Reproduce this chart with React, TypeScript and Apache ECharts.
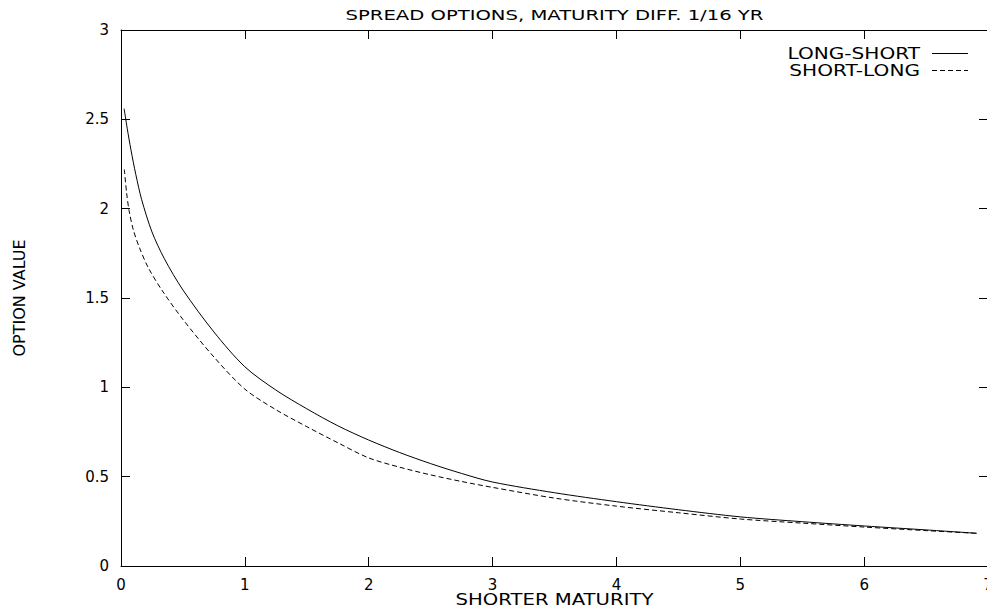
import React, { useEffect, useRef } from "react";
import * as echarts from "echarts";

const TITLE = "SPREAD OPTIONS, MATURITY DIFF. 1/16 YR";
const X_NAME = "SHORTER MATURITY";
const Y_NAME = "OPTION VALUE";
const SERIES_NAMES = ["LONG-SHORT", "SHORT-LONG"];

const longShortX = [0.025, 0.05, 0.08, 0.12, 0.167, 0.25, 0.35, 0.5, 0.75, 1.0, 1.25, 1.5, 1.75, 2.0, 2.25, 2.5, 2.75, 3.0, 3.5, 4.0, 4.5, 5.0, 5.5, 6.0, 6.5, 6.91];
const longShortY = [2.56, 2.45, 2.33, 2.19, 2.05, 1.87, 1.72, 1.545, 1.31, 1.115, 0.985, 0.88, 0.785, 0.705, 0.635, 0.573, 0.518, 0.47, 0.41, 0.36, 0.315, 0.275, 0.248, 0.224, 0.202, 0.183];

const shortLongX = [0.027, 0.045, 0.065, 0.1, 0.15, 0.22, 0.33, 0.5, 0.75, 1.0, 1.25, 1.5, 1.75, 2.0, 2.25, 2.5, 2.75, 3.0, 3.5, 4.0, 4.5, 5.0, 5.5, 6.0, 6.5, 6.91];
const shortLongY = [2.22, 2.09, 1.99, 1.88, 1.78, 1.67, 1.544, 1.38, 1.17, 0.99, 0.875, 0.78, 0.69, 0.605, 0.553, 0.51, 0.473, 0.44, 0.38, 0.335, 0.298, 0.263, 0.24, 0.218, 0.198, 0.183];

const X_MIN = 0;
const X_MAX = 7;
const X_STEP = 1;
const Y_MIN = 0;
const Y_MAX = 3;
const Y_STEP = 0.5;

const FONT = "DejaVu Sans";
const DASH = [5, 3];

export default function App() {
  const ref = useRef<HTMLDivElement>(null);
  useEffect(() => {
    if (!ref.current) return;
    const chart = echarts.init(ref.current, null, { renderer: "svg" });
    const pairs = (xs: number[], ys: number[]) => xs.map((x, i) => [x, ys[i]]);
    const axisCommon = {
      axisLine: { show: true, onZero: false, lineStyle: { color: "#000", width: 1 } },
      axisTick: { show: true, inside: true, length: 9, lineStyle: { color: "#000", width: 1 } },
      splitLine: { show: false },
    };
    const textStyle = (text: string, align: string) => ({
      text,
      align,
      verticalAlign: "middle",
      fontFamily: FONT,
      fontSize: 14,
      fill: "#000",
    });
    chart.setOption({
      animation: false,
      backgroundColor: "#ffffff",
      textStyle: { fontFamily: FONT },
      grid: { left: 121, top: 30, width: 867, height: 536, containLabel: false },
      graphic: [
        { type: "text", x: 554.5, y: 15, scaleX: 1.4, style: textStyle(TITLE, "center") },
        { type: "text", x: 554.5, y: 600, scaleX: 1.31, style: { ...textStyle(X_NAME, "center"), fontSize: 15 } },
        { type: "text", x: 920, y: 54, scaleX: 1.34, style: { ...textStyle(SERIES_NAMES[0], "right"), fontSize: 15 } },
        { type: "text", x: 920, y: 70.5, scaleX: 1.34, style: { ...textStyle(SERIES_NAMES[1], "right"), fontSize: 15 } },
        {
          type: "line",
          shape: { x1: 932, y1: 53.5, x2: 968, y2: 53.5 },
          style: { stroke: "#000", lineWidth: 1 },
        },
        {
          type: "line",
          shape: { x1: 932, y1: 70.5, x2: 968, y2: 70.5 },
          style: { stroke: "#000", lineWidth: 1, lineDash: DASH },
        },
      ],
      xAxis: [
        {
          type: "value",
          min: X_MIN,
          max: X_MAX,
          interval: X_STEP,
          position: "bottom",
          axisLabel: { show: true, margin: 11, color: "#000", fontFamily: FONT, fontSize: 15 },
          ...axisCommon,
        },
        {
          type: "value",
          min: X_MIN,
          max: X_MAX,
          interval: X_STEP,
          position: "top",
          axisLabel: { show: false },
          ...axisCommon,
        },
      ],
      yAxis: [
        {
          type: "value",
          min: Y_MIN,
          max: Y_MAX,
          interval: Y_STEP,
          position: "left",
          name: Y_NAME,
          nameLocation: "middle",
          nameGap: 94,
          nameTextStyle: { fontFamily: FONT, fontSize: 16, color: "#000" },
          axisLabel: { show: true, margin: 12, color: "#000", fontFamily: FONT, fontSize: 15 },
          ...axisCommon,
        },
        {
          type: "value",
          min: Y_MIN,
          max: Y_MAX,
          interval: Y_STEP,
          position: "right",
          axisLabel: { show: false },
          ...axisCommon,
        },
      ],
      series: [
        {
          name: SERIES_NAMES[0],
          type: "line",
          smooth: 0.3,
          symbol: "none",
          xAxisIndex: 0,
          yAxisIndex: 0,
          data: pairs(longShortX, longShortY),
          itemStyle: { color: "#000" },
          lineStyle: { color: "#000", width: 1, type: "solid" },
        },
        {
          name: SERIES_NAMES[1],
          type: "line",
          smooth: 0.3,
          symbol: "none",
          xAxisIndex: 0,
          yAxisIndex: 0,
          data: pairs(shortLongX, shortLongY),
          itemStyle: { color: "#000" },
          lineStyle: { color: "#000", width: 1, type: DASH },
        },
      ],
    });
    return () => chart.dispose();
  }, []);
  return (
    <div
      style={{
        position: "fixed",
        left: 0,
        top: 0,
        width: 987,
        height: 610,
        overflow: "hidden",
        background: "#fff",
      }}
    >
      <div ref={ref} style={{ width: 1000, height: 610 }} />
    </div>
  );
}
